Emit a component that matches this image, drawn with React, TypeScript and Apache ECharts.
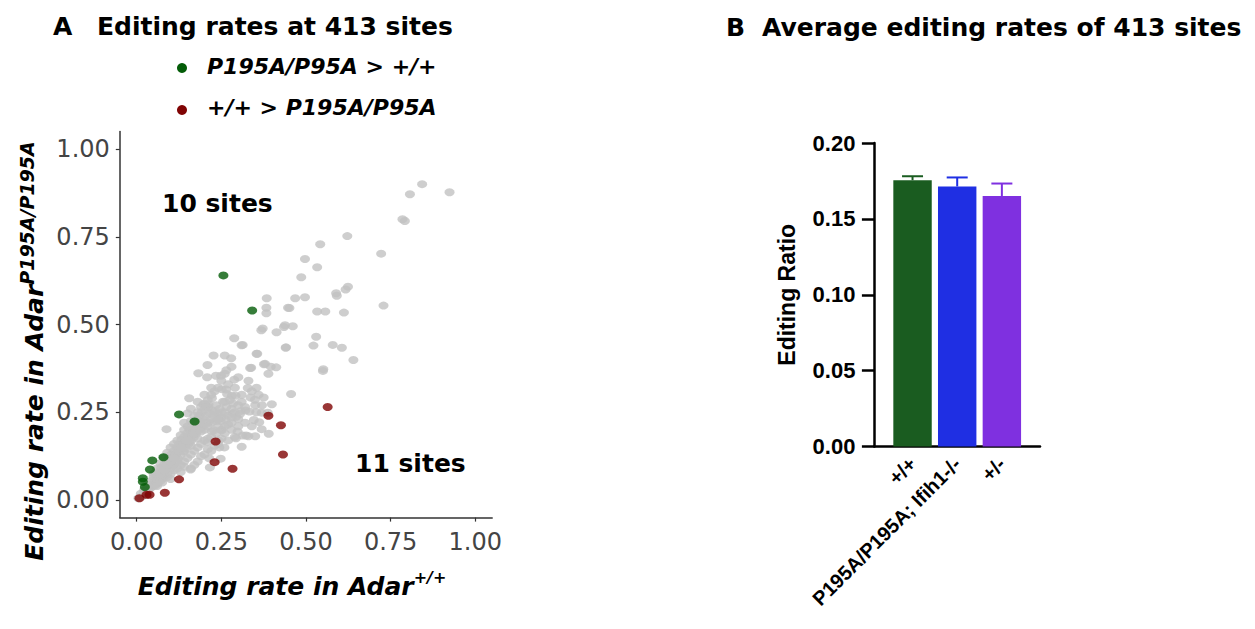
import React, { useEffect, useRef } from "react";
import * as echarts from "echarts";

// ---------- Panel A data ----------
const scatterTicks = [0, 0.25, 0.5, 0.75, 1.0];

const greyPoints: number[][] = [
  [0.843, 0.9], [0.924, 0.877], [0.807, 0.871], [0.785, 0.8], [0.792, 0.795],
  [0.622, 0.752], [0.542, 0.729], [0.722, 0.702], [0.497, 0.687], [0.533, 0.663],
  [0.486, 0.635], [0.624, 0.608], [0.617, 0.6], [0.589, 0.589], [0.591, 0.582],
  [0.729, 0.554], [0.384, 0.575], [0.383, 0.548], [0.383, 0.532], [0.468, 0.575],
  [0.497, 0.578], [0.447, 0.548], [0.533, 0.537], [0.557, 0.537], [0.612, 0.534],
  [0.368, 0.484], [0.372, 0.489], [0.413, 0.478], [0.435, 0.493], [0.438, 0.498],
  [0.461, 0.495], [0.44, 0.434], [0.53, 0.465], [0.522, 0.44], [0.579, 0.442],
  [0.606, 0.434], [0.64, 0.399], [0.288, 0.461], [0.31, 0.441], [0.354, 0.417],
  [0.227, 0.412], [0.26, 0.412], [0.279, 0.404], [0.209, 0.385], [0.265, 0.37],
  [0.335, 0.376], [0.376, 0.387], [0.396, 0.38], [0.412, 0.378], [0.182, 0.361],
  [0.208, 0.35], [0.234, 0.354], [0.249, 0.354], [0.288, 0.343], [0.55, 0.368],
  [0.389, 0.36], [0.251, 0.316], [0.264, 0.315], [0.328, 0.319], [0.354, 0.32],
  [0.155, 0.29], [0.222, 0.29], [0.267, 0.302], [0.281, 0.297], [0.292, 0.297],
  [0.456, 0.302], [0.197, 0.272], [0.205, 0.267], [0.212, 0.273], [0.336, 0.292],
  [0.349, 0.286], [0.375, 0.292], [0.399, 0.273], [0.308, 0.254], [0.321, 0.255],
  [0.333, 0.252], [0.353, 0.25], [0.369, 0.249], [0.387, 0.249], [0.284, 0.247],
  [0.294, 0.237], [0.234, 0.225], [0.248, 0.225], [0.15, 0.247], [0.228, 0.199],
  [0.221, 0.196], [0.251, 0.199], [0.298, 0.195], [0.313, 0.184], [0.323, 0.184],
  [0.346, 0.228], [0.362, 0.222], [0.369, 0.202], [0.39, 0.189], [0.209, 0.165],
  [0.244, 0.15], [0.259, 0.15], [0.214, 0.119], [0.243, 0.169], [0.088, 0.202],
  [0.18, 0.221], [0.451, 0.547], [0.441, 0.435], [0.356, 0.417], [0.379, 0.388],
  [0.338, 0.377], [0.551, 0.373], [0.313, 0.442],
  // dense cluster along the diagonal
  [0.005, 0.005], [0.012, 0.018], [0.018, 0.012], [0.022, 0.028], [0.028, 0.022],
  [0.03, 0.035], [0.035, 0.028], [0.038, 0.045], [0.042, 0.036], [0.045, 0.055],
  [0.048, 0.04], [0.05, 0.065], [0.052, 0.05], [0.055, 0.042], [0.058, 0.07],
  [0.06, 0.058], [0.062, 0.048], [0.065, 0.08], [0.068, 0.066], [0.07, 0.055],
  [0.072, 0.092], [0.075, 0.078], [0.078, 0.062], [0.08, 0.1], [0.082, 0.085],
  [0.085, 0.07], [0.088, 0.11], [0.09, 0.095], [0.092, 0.078], [0.095, 0.12],
  [0.098, 0.105], [0.1, 0.09], [0.102, 0.13], [0.105, 0.115], [0.108, 0.098],
  [0.11, 0.14], [0.112, 0.125], [0.115, 0.108], [0.118, 0.15], [0.12, 0.135],
  [0.122, 0.118], [0.125, 0.16], [0.128, 0.145], [0.13, 0.128], [0.132, 0.172],
  [0.135, 0.155], [0.138, 0.138], [0.14, 0.18], [0.142, 0.165], [0.145, 0.148],
  [0.148, 0.19], [0.15, 0.175], [0.152, 0.158], [0.155, 0.2], [0.158, 0.185],
  [0.16, 0.168], [0.162, 0.21], [0.165, 0.195], [0.168, 0.178], [0.17, 0.22],
  [0.172, 0.205], [0.175, 0.188], [0.178, 0.23], [0.18, 0.215], [0.182, 0.198],
  [0.185, 0.24], [0.188, 0.225], [0.19, 0.205], [0.192, 0.25], [0.195, 0.232],
  [0.198, 0.212], [0.2, 0.258], [0.205, 0.24], [0.21, 0.22], [0.212, 0.265],
  [0.215, 0.248], [0.22, 0.23], [0.225, 0.255], [0.23, 0.238], [0.235, 0.27],
  [0.24, 0.245], [0.245, 0.26], [0.25, 0.235], [0.255, 0.28], [0.26, 0.25],
  [0.265, 0.265], [0.27, 0.24], [0.275, 0.285], [0.28, 0.26], [0.285, 0.275],
  [0.29, 0.25], [0.3, 0.27], [0.305, 0.245], [0.31, 0.28], [0.32, 0.265],
  [0.06, 0.04], [0.075, 0.05], [0.09, 0.065], [0.1, 0.075], [0.11, 0.085],
  [0.12, 0.09], [0.13, 0.1], [0.14, 0.11], [0.15, 0.12], [0.16, 0.13],
  [0.17, 0.14], [0.18, 0.15], [0.19, 0.16], [0.2, 0.17], [0.21, 0.175],
  [0.22, 0.18], [0.235, 0.19], [0.25, 0.2], [0.26, 0.21], [0.27, 0.215],
  [0.28, 0.22], [0.3, 0.23], [0.16, 0.09], [0.18, 0.11], [0.2, 0.13],
  [0.22, 0.14], [0.24, 0.16], [0.27, 0.17], [0.29, 0.18], [0.14, 0.095],
  [0.1, 0.06], [0.13, 0.08], [0.17, 0.1], [0.19, 0.125], [0.21, 0.145],
  [0.23, 0.155], [0.25, 0.175], [0.28, 0.2],
  [0.05, 0.075], [0.06, 0.09], [0.07, 0.105], [0.08, 0.12], [0.09, 0.135],
  [0.1, 0.15], [0.11, 0.16], [0.12, 0.17], [0.13, 0.185], [0.14, 0.2],
  [0.15, 0.21], [0.16, 0.225], [0.17, 0.24], [0.18, 0.25], [0.19, 0.265],
  [0.2, 0.275], [0.21, 0.285], [0.22, 0.3], [0.23, 0.31], [0.24, 0.32],
  [0.14, 0.22], [0.16, 0.26], [0.18, 0.28], [0.2, 0.3], [0.22, 0.32],
  [0.25, 0.34], [0.27, 0.33], [0.29, 0.32], [0.26, 0.36], [0.3, 0.35],
  [0.28, 0.38], [0.31, 0.3], [0.33, 0.34], [0.34, 0.31], [0.36, 0.3],
  [0.37, 0.27], [0.35, 0.27], [0.32, 0.22], [0.34, 0.21], [0.3, 0.21],
  [0.28, 0.235], [0.26, 0.19], [0.24, 0.21], [0.26, 0.23],
  [0.085, 0.09], [0.095, 0.11], [0.105, 0.1], [0.115, 0.13], [0.125, 0.14],
  [0.135, 0.16], [0.145, 0.17], [0.155, 0.165], [0.165, 0.185], [0.175, 0.2],
  [0.185, 0.21], [0.195, 0.22], [0.12, 0.11], [0.14, 0.14], [0.16, 0.155],
  [0.18, 0.175], [0.2, 0.2], [0.22, 0.22], [0.24, 0.23], [0.26, 0.28],
  [0.07, 0.075], [0.08, 0.085], [0.09, 0.1], [0.1, 0.11], [0.11, 0.12],
  [0.13, 0.15], [0.15, 0.17], [0.17, 0.19], [0.19, 0.195], [0.21, 0.21],
  [0.23, 0.25], [0.25, 0.25], [0.159, 0.087], [0.216, 0.093], [0.248, 0.118],
  [0.293, 0.176], [0.31, 0.152], [0.33, 0.182], [0.35, 0.182],
];

const greenPoints: number[][] = [
  [0.256, 0.64], [0.341, 0.54], [0.125, 0.244], [0.171, 0.224], [0.079, 0.122],
  [0.046, 0.113], [0.039, 0.087], [0.018, 0.062], [0.018, 0.052], [0.024, 0.037],
];

const redPoints: number[][] = [
  [0.564, 0.265], [0.389, 0.24], [0.426, 0.213], [0.233, 0.167], [0.432, 0.13],
  [0.23, 0.108], [0.283, 0.089], [0.125, 0.059], [0.083, 0.021], [0.029, 0.015],
  [0.038, 0.015], [0.008, 0.005],
];

const greenLabel = "P195A/P95A > +/+";
const redLabel = "+/+ > P195A/P95A";

// ---------- Panel B data ----------
const barCategories = ["+/+", "P195A/P195A; Ifih1-/-", "+/-"];
const barMeans = [0.1755, 0.1714, 0.1651];
const barErrors = [0.0026, 0.0059, 0.0082];
const barColors = ["#1a5c20", "#1f2fe3", "#7f30e0"];

const GREEN = "#045c08";
const RED = "#800404";

export default function App() {
  const ref = useRef<HTMLDivElement>(null);

  useEffect(() => {
    document.body.style.margin = "0";
    if (!ref.current) return;
    const chart = echarts.init(ref.current, undefined, { renderer: "svg" });

    const dejavu = '"DejaVu Sans", sans-serif';
    const arial = '"Liberation Sans", Arial, sans-serif';

    const option: any = {
      animation: false,
      backgroundColor: "#ffffff",
      grid: [
        { left: 119.8, top: 131.5, width: 372.4, height: 386.1 },
        { left: 874.4, top: 143, width: 165.6, height: 303.6 },
        { left: 890.2, top: 143, width: 134, height: 303.6 },
      ],
      xAxis: [
        {
          gridIndex: 0,
          type: "value",
          min: -0.05,
          max: 1.05,
          splitLine: { show: false },
          axisLine: { show: true, onZero: false, lineStyle: { color: "#333", width: 1.5 } },
          axisTick: { show: true, customValues: scatterTicks, length: 4, lineStyle: { color: "#333", width: 1.2 } },
          axisLabel: {
            customValues: scatterTicks,
            formatter: (v: number) => v.toFixed(2),
            fontSize: 24,
            color: "#444",
            fontFamily: dejavu,
            margin: 12,
          },
        },
        {
          gridIndex: 1,
          type: "value",
          min: 0,
          max: 1,
          splitLine: { show: false },
          axisLine: { show: true, lineStyle: { color: "#000", width: 2.5 } },
          axisTick: { show: false },
          axisLabel: { show: false },
        },
        {
          gridIndex: 2,
          type: "category",
          data: barCategories,
          axisLine: { show: false },
          axisTick: { show: false },
          axisLabel: {
            rotate: 45,
            interval: 0,
            fontSize: 20,
            fontWeight: "bold",
            fontFamily: arial,
            color: "#000",
            margin: 14,
          },
        },
      ],
      yAxis: [
        {
          gridIndex: 0,
          type: "value",
          min: -0.05,
          max: 1.05,
          splitLine: { show: false },
          axisLine: { show: true, onZero: false, lineStyle: { color: "#333", width: 1.5 } },
          axisTick: { show: true, customValues: scatterTicks, length: 4, lineStyle: { color: "#333", width: 1.2 } },
          axisLabel: {
            customValues: scatterTicks,
            formatter: (v: number) => v.toFixed(2),
            fontSize: 24,
            color: "#444",
            fontFamily: dejavu,
            margin: 10,
          },
        },
        {
          gridIndex: 1,
          type: "value",
          min: 0,
          max: 0.2,
          interval: 0.05,
          splitLine: { show: false },
          axisLine: { show: true, lineStyle: { color: "#000", width: 2.5 } },
          axisTick: { show: true, length: 12.5, lineStyle: { color: "#000", width: 2.5 } },
          axisLabel: {
            formatter: (v: number) => v.toFixed(2),
            fontSize: 22,
            fontWeight: "bold",
            fontFamily: arial,
            color: "#000",
            margin: 19,
          },
          name: "Editing Ratio",
          nameLocation: "middle",
          nameGap: 76,
          nameTextStyle: { fontSize: 23, fontWeight: "bold", fontFamily: arial, color: "#000" },
        },
        { gridIndex: 2, type: "value", min: 0, max: 0.2, show: false },
      ],
      series: [
        {
          name: "other sites",
          type: "scatter",
          xAxisIndex: 0,
          yAxisIndex: 0,
          data: greyPoints,
          symbol: "circle",
          symbolSize: [10, 8],
          itemStyle: { color: "#c2c2c2" },
          silent: true,
          z: 2,
        },
        {
          name: greenLabel,
          type: "scatter",
          xAxisIndex: 0,
          yAxisIndex: 0,
          data: greenPoints,
          symbol: "circle",
          symbolSize: [10, 8],
          itemStyle: { color: GREEN },
          silent: true,
          z: 3,
        },
        {
          name: redLabel,
          type: "scatter",
          xAxisIndex: 0,
          yAxisIndex: 0,
          data: redPoints,
          symbol: "circle",
          symbolSize: [10, 8],
          itemStyle: { color: RED },
          silent: true,
          z: 3,
        },
        {
          name: "Average editing",
          type: "bar",
          xAxisIndex: 2,
          yAxisIndex: 2,
          barWidth: "86%",
          data: barMeans.map((v, i) => ({ value: v, itemStyle: { color: barColors[i] } })),
          silent: true,
          z: 2,
        },
        {
          name: "SEM",
          type: "custom",
          xAxisIndex: 2,
          yAxisIndex: 2,
          data: barMeans.map((m, i) => [i, m, m + barErrors[i]]),
          encode: { x: 0, y: [1, 2] },
          silent: true,
          z: 3,
          renderItem: (params: any, api: any) => {
            const idx = api.value(0);
            const lo = api.coord([idx, api.value(1)]);
            const hi = api.coord([idx, api.value(2)]);
            const color = barColors[params.dataIndex];
            const half = 10.5;
            return {
              type: "group",
              children: [
                { type: "line", shape: { x1: lo[0], y1: lo[1], x2: hi[0], y2: hi[1] }, style: { stroke: color, lineWidth: 2 } },
                { type: "line", shape: { x1: hi[0] - half, y1: hi[1], x2: hi[0] + half, y2: hi[1] }, style: { stroke: color, lineWidth: 2 } },
              ],
            };
          },
        },
      ],
      graphic: [
        { type: "text", x: 53, y: 26, style: { text: "A", font: `bold 25px ${dejavu}`, fill: "#000", align: "left", verticalAlign: "middle" } },
        { type: "text", x: 97, y: 26, style: { text: "Editing rates at 413 sites", font: `bold 25px ${dejavu}`, fill: "#000", align: "left", verticalAlign: "middle" } },
        { type: "text", x: 726, y: 27, style: { text: "B", font: `bold 25px ${dejavu}`, fill: "#000", align: "left", verticalAlign: "middle" } },
        { type: "text", x: 762, y: 27, style: { text: "Average editing rates of 413 sites", font: `bold 25px ${dejavu}`, fill: "#000", align: "left", verticalAlign: "middle" } },
        { type: "circle", shape: { cx: 182, cy: 68, r: 5 }, style: { fill: GREEN } },
        { type: "text", x: 207, y: 66, style: { text: greenLabel, font: `italic bold 22px ${dejavu}`, fill: "#000", align: "left", verticalAlign: "middle" } },
        { type: "circle", shape: { cx: 182, cy: 110, r: 5 }, style: { fill: RED } },
        { type: "text", x: 207, y: 107, style: { text: redLabel, font: `italic bold 22px ${dejavu}`, fill: "#000", align: "left", verticalAlign: "middle" } },
        { type: "text", x: 162, y: 203, style: { text: "10 sites", font: `bold 25px ${dejavu}`, fill: "#000", align: "left", verticalAlign: "middle" } },
        { type: "text", x: 355, y: 463, style: { text: "11 sites", font: `bold 25px ${dejavu}`, fill: "#000", align: "left", verticalAlign: "middle" } },
        {
          type: "text",
          x: 292,
          y: 584,
          style: {
            text: "{a|Editing rate in Adar}{b|+/+}",
            align: "center",
            verticalAlign: "middle",
            rich: {
              a: { fontSize: 25, fontWeight: "bold", fontStyle: "italic", fontFamily: dejavu, fill: "#000", color: "#000", verticalAlign: "bottom", lineHeight: 30 },
              b: { fontSize: 16, fontWeight: "bold", fontStyle: "italic", fontFamily: dejavu, fill: "#000", color: "#000", verticalAlign: "top" },
            },
          },
        },
        {
          type: "text",
          x: 32,
          y: 351,
          rotation: Math.PI / 2,
          style: {
            text: "{a|Editing rate in Adar}{b|P195A/P195A}",
            align: "center",
            verticalAlign: "middle",
            rich: {
              a: { fontSize: 25, fontWeight: "bold", fontStyle: "italic", fontFamily: dejavu, fill: "#000", color: "#000", verticalAlign: "bottom", lineHeight: 30 },
              b: { fontSize: 19, fontWeight: "bold", fontStyle: "italic", fontFamily: dejavu, fill: "#000", color: "#000", verticalAlign: "top" },
            },
          },
        },
      ],
    };

    chart.setOption(option);
    return () => chart.dispose();
  }, []);

  return (
    <div
      ref={ref}
      style={{ position: "absolute", left: 0, top: 0, width: 1255, height: 629, background: "#fff" }}
    />
  );
}
